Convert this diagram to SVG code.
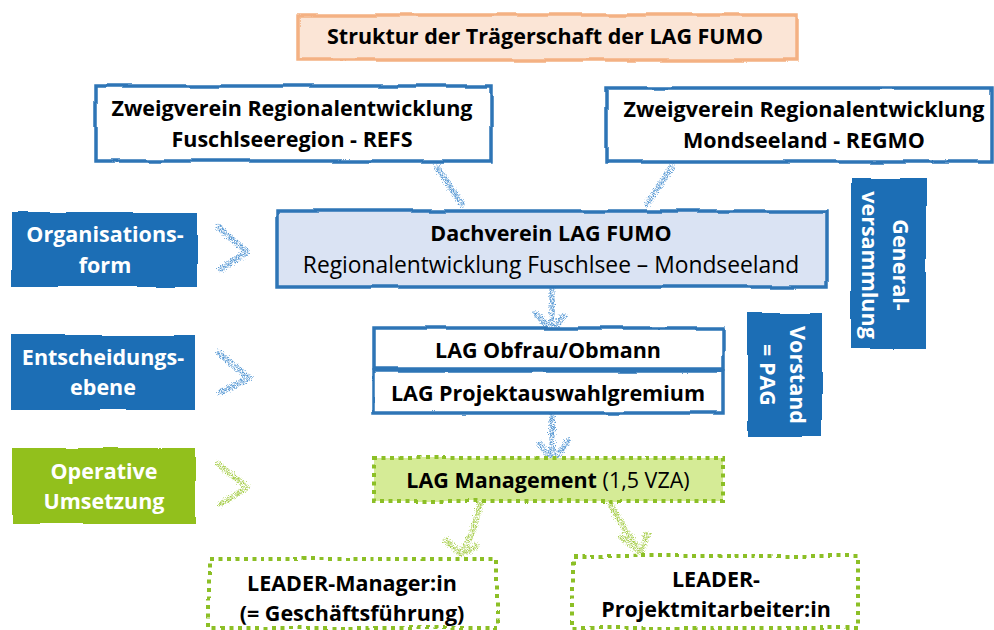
<svg xmlns="http://www.w3.org/2000/svg" width="994" height="630" viewBox="0 0 994 630">
<defs>
<filter id="wob" filterUnits="userSpaceOnUse" x="0" y="0" width="994" height="630">
<feTurbulence type="fractalNoise" baseFrequency="0.022" numOctaves="1" seed="3" result="n"/>
<feDisplacementMap in="SourceGraphic" in2="n" scale="4.5" xChannelSelector="R" yChannelSelector="G"/>
</filter>
<filter id="chalk" filterUnits="userSpaceOnUse" x="0" y="0" width="994" height="630">
<feTurbulence type="fractalNoise" baseFrequency="0.9" numOctaves="2" seed="5" result="n"/>
<feDisplacementMap in="SourceGraphic" in2="n" scale="7" xChannelSelector="R" yChannelSelector="G" result="d"/>
<feTurbulence type="fractalNoise" baseFrequency="1.6" numOctaves="1" seed="9" result="g"/>
<feColorMatrix in="g" type="matrix" values="0 0 0 0 0  0 0 0 0 0  0 0 0 0 0  3.2 0 0 0 -1.1" result="ga"/>
<feComposite in="d" in2="ga" operator="in"/>
</filter>
<style>
.t{font-family:"Open Sans","Liberation Sans",sans-serif;font-size:21.5px;text-anchor:middle;fill:#000}
.b{font-weight:bold}
.w{fill:#fff}
.box{fill:#fff;stroke:#2e75b6;stroke-width:3.5}
.blue{fill:#1f6eb5}
.green{fill:#92c01f}
.dot{stroke:#8cbf26;stroke-width:4;stroke-dasharray:4 4.5}
.cb{fill:none;stroke:#5b9bd5;stroke-width:6;stroke-linecap:round;stroke-linejoin:round}
.cg{fill:none;stroke:#a9cf4f;stroke-width:6;stroke-linecap:round;stroke-linejoin:round}
</style>
</defs>

<g id="connectors">
<g filter="url(#chalk)">
<path class="cb" d="M437 167 L462 204"/>
<path class="cb" d="M672 167 L647 204"/>
<path class="cb" d="M552 290 L552 330 M536 314 L551 330 M563 316 L555 330"/>
<path class="cb" d="M552 416 L552 459 M540 444 L551 459 M568 441 L555 459"/>
<path class="cb" d="M218 227 L247 252 L221 269"/>
<path class="cb" d="M219 353 L249 378 L221 392"/>
<path class="cg" d="M218 464 L247 487 L221 504"/>
<path class="cg" d="M480 503 Q476 530 461 553 M446 540 L460 554 M477 546 L462 554"/>
<path class="cg" d="M610 503 Q624 530 640 551 M621 537 L639 552 M647 534 L641 552"/>
</g>
</g>

<g id="title">
<rect x="298" y="15" width="499" height="45" fill="#fbe5d6" stroke="#f4b183" stroke-width="3.5" filter="url(#wob)"/>
<text class="t b" x="545" y="44">Struktur der Trägerschaft der LAG FUMO</text>
</g>

<g id="refs">
<rect class="box" x="96" y="86" width="395" height="75" filter="url(#wob)"/>
<text class="t b" x="292" y="116">Zweigverein Regionalentwicklung</text>
<text class="t b" x="292" y="147">Fuschlseeregion - REFS</text>
</g>

<g id="regmo">
<rect class="box" x="606" y="88" width="386" height="74" filter="url(#wob)"/>
<text class="t b" x="804" y="117">Zweigverein Regionalentwicklung</text>
<text class="t b" x="804" y="148">Mondseeland - REGMO</text>
</g>

<g id="dachverein">
<rect x="277" y="211" width="550" height="76" fill="#dae3f3" stroke="#2e75b6" stroke-width="3.5" filter="url(#wob)"/>
<text class="t b" x="551" y="241">Dachverein LAG FUMO</text>
<text class="t" x="551" y="273" style="font-size:22.8px">Regionalentwicklung Fuschlsee – Mondseeland</text>
</g>

<g id="organisationsform">
<rect class="blue" x="12" y="212" width="185" height="75" filter="url(#wob)"/>
<text class="t b w" x="105" y="242">Organisations-</text>
<text class="t b w" x="105" y="273">form</text>
</g>

<g id="entscheidungsebene">
<rect class="blue" x="11" y="335" width="184" height="75" filter="url(#wob)"/>
<text class="t b w" x="103" y="365">Entscheidungs-</text>
<text class="t b w" x="103" y="395">ebene</text>
</g>

<g id="operative">
<rect class="green" x="12" y="448" width="184" height="76" filter="url(#wob)"/>
<text class="t b w" x="104" y="479">Operative</text>
<text class="t b w" x="104" y="509">Umsetzung</text>
</g>

<g id="obfrau">
<rect class="box" x="374" y="328" width="349" height="41" filter="url(#wob)"/>
<text class="t b" x="548" y="358">LAG Obfrau/Obmann</text>
</g>

<g id="pag">
<rect class="box" x="374" y="371" width="349" height="42" filter="url(#wob)"/>
<text class="t b" x="548" y="401">LAG Projektauswahlgremium</text>
</g>

<g id="vorstand">
<rect class="blue" x="748" y="313" width="74" height="124" filter="url(#wob)"/>
<g transform="translate(785 375) rotate(90)">
<text class="t b w" x="0" y="-5">Vorstand</text>
<text class="t b w" x="0" y="25">= PAG</text>
</g>
</g>

<g id="generalversammlung">
<rect class="blue" x="851" y="178" width="75" height="171" filter="url(#wob)"/>
<g transform="translate(887 265) rotate(90)">
<text class="t b w" x="0" y="-6">General-</text>
<text class="t b w" x="0" y="25">versammlung</text>
</g>
</g>

<g id="management">
<rect class="dot" x="374" y="458" width="349" height="43" fill="#d5eb96" filter="url(#wob)"/>
<text class="t" x="548" y="488"><tspan class="b">LAG Management</tspan> (1,5 VZA)</text>
</g>

<g id="leader-manager">
<rect class="dot" x="209" y="559" width="288" height="69" fill="#fff" filter="url(#wob)"/>
<text class="t b" x="352" y="591">LEADER-Manager:in</text>
<text class="t b" x="352" y="621">(= Geschäftsführung)</text>
</g>

<g id="leader-projekt">
<rect class="dot" x="573" y="556" width="285" height="72" fill="#fff" filter="url(#wob)"/>
<text class="t b" x="716" y="587">LEADER-</text>
<text class="t b" x="716" y="617">Projektmitarbeiter:in</text>
</g>
</svg>
